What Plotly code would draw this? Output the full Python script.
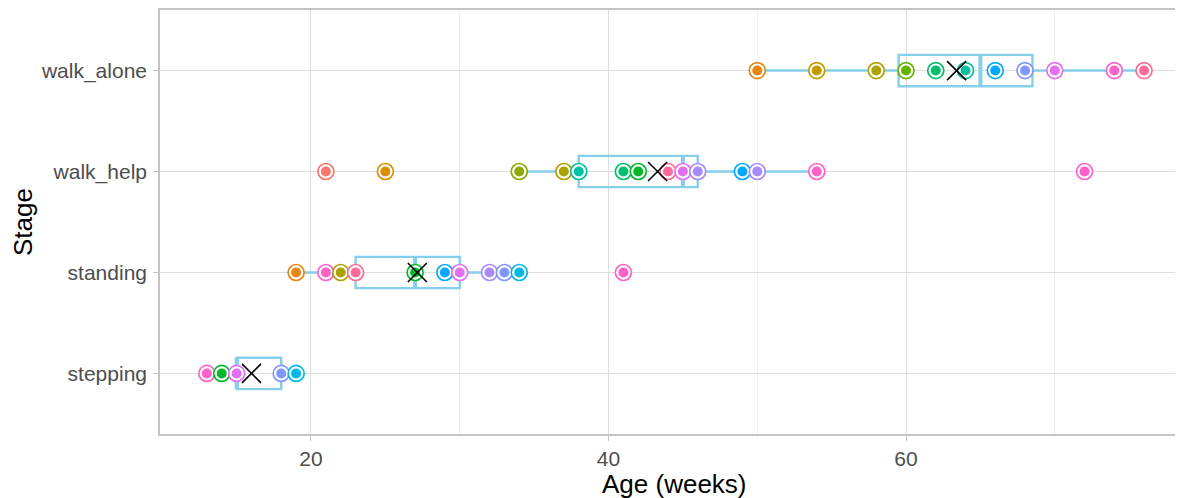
import plotly.graph_objects as go

# ---- data ----
stages = ["stepping", "standing", "walk_help", "walk_alone"]

SAL = "#F8766D"; ORA = "#E68613"; ORA2 = "#DA8E00"; GOLD = "#C49A00"; OLV = "#ABA300"
YG = "#8AAB00"; YG2 = "#64B200"; GRN = "#00BE6C"; GRN2 = "#00B92A"; TEAL = "#00C1A3"
SKY = "#00A9FF"; CYAN = "#00B8E7"; BLUE = "#7F96FF"; LAV = "#A88AFF"; MAG = "#E36EF0"
PINK = "#FF61C9"; PRED = "#FF6A98"

stepping_ages = [13, 14, 15, 18, 19]
stepping_cols = [PINK, GRN2, MAG, BLUE, CYAN]

standing_ages = [19, 21, 22, 23, 27, 29, 30, 32, 33, 34, 41]
standing_cols = [ORA, PINK, OLV, PRED, GRN2, SKY, MAG, LAV, BLUE, CYAN, PINK]

walk_help_ages = [21, 25, 34, 37, 38, 41, 42, 44, 45, 46, 49, 50, 54, 72]
walk_help_cols = [SAL, ORA2, YG, OLV, TEAL, GRN, GRN2, PRED, MAG, LAV, SKY, LAV, PINK, PINK]

walk_alone_ages = [50, 54, 58, 60, 62, 64, 66, 68, 70, 74, 76]
walk_alone_cols = [ORA, GOLD, OLV, YG2, GRN, TEAL, SKY, BLUE, MAG, PINK, PRED]

q1 = [15, 23, 38, 59.5]
median = [15, 27, 45, 65]
q3 = [18, 30, 46, 68.5]
lowerfence = [13, 19, 34, 50]
upperfence = [19, 34, 54, 76]
means = [16.0, 27.15, 43.3, 63.4]

x_ticks = [20, 40, 60]
x_minor = [30, 50, 70]

# ---- figure ----
BOXC = "#87CEEB"
fig = go.Figure()

fig.add_trace(go.Box(
    y=stages, q1=q1, median=median, q3=q3,
    lowerfence=lowerfence, upperfence=upperfence,
    orientation="h", boxpoints=False, whiskerwidth=0, width=0.31,
    line=dict(color=BOXC, width=2.4), fillcolor="rgba(0,0,0,0)",
    hoverinfo="skip", showlegend=False))

# thicker median segment
fig.add_trace(go.Box(
    y=stages, q1=median, median=median, q3=median,
    lowerfence=median, upperfence=median,
    orientation="h", boxpoints=False, whiskerwidth=0, width=0.31,
    line=dict(color=BOXC, width=4), fillcolor="rgba(0,0,0,0)",
    hoverinfo="skip", showlegend=False))

xs, ys, sz, fc, lc, lw = [], [], [], [], [], []
for st, ages, cols in [("stepping", stepping_ages, stepping_cols),
                       ("standing", standing_ages, standing_cols),
                       ("walk_help", walk_help_ages, walk_help_cols),
                       ("walk_alone", walk_alone_ages, walk_alone_cols)]:
    for a, c in zip(ages, cols):
        xs += [a, a]; ys += [st, st]
        sz += [16, 10]; fc += ["white", c]; lc += [c, c]; lw += [1.7, 0]

fig.add_trace(go.Scatter(
    x=xs, y=ys, mode="markers",
    marker=dict(size=sz, color=fc, line=dict(color=lc, width=lw), opacity=1),
    hoverinfo="skip", showlegend=False))

fig.add_trace(go.Scatter(
    x=means, y=stages, mode="markers",
    marker=dict(symbol="x-thin", size=19, color="black",
                line=dict(color="black", width=1.6)),
    hoverinfo="skip", showlegend=False))

FONT = "Liberation Sans, Arial, sans-serif"
fig.update_layout(
    width=1175, height=490,
    margin=dict(l=152, r=0, t=0, b=64),
    plot_bgcolor="white", paper_bgcolor="white",
    boxmode="overlay",
    font=dict(family=FONT),
    xaxis=dict(range=[9.85, 78.62], tickvals=x_ticks, ticktext=[str(v) for v in x_ticks],
               showgrid=True, gridcolor="#DEDEDE", gridwidth=1,
               minor=dict(tickvals=x_minor, showgrid=True, gridcolor="#EFEFEF", gridwidth=0.7),
               zeroline=False, showline=True, linecolor="#C4C4C4", linewidth=1.6, mirror=True,
               ticks="outside", ticklen=5, tickcolor="#C4C4C4", tickwidth=1,
               tickfont=dict(size=21, color="#4D4D4D", family=FONT)),
    yaxis=dict(type="category", categoryorder="array", categoryarray=stages,
               range=[-0.6, 3.6], showgrid=True, gridcolor="#DEDEDE", gridwidth=1,
               zeroline=False, showline=True, linecolor="#C4C4C4", linewidth=1.6,
               ticks="outside", ticklen=5, tickcolor="#C4C4C4", tickwidth=1,
               ticklabelstandoff=2,
               tickfont=dict(size=21, color="#4D4D4D", family=FONT)),
    annotations=[
        dict(text="Age (weeks)", x=0.5, y=0, xref="paper", yref="paper",
             xanchor="center", yanchor="middle", xshift=3, yshift=-50, showarrow=False,
             font=dict(size=26, color="black", family=FONT)),
        dict(text="Stage", x=0, y=0.5, xref="paper", yref="paper",
             xanchor="center", yanchor="middle", xshift=-137, textangle=-90, showarrow=False,
             font=dict(size=26, color="black", family=FONT)),
    ],
)

fig.write_html("out.html")
